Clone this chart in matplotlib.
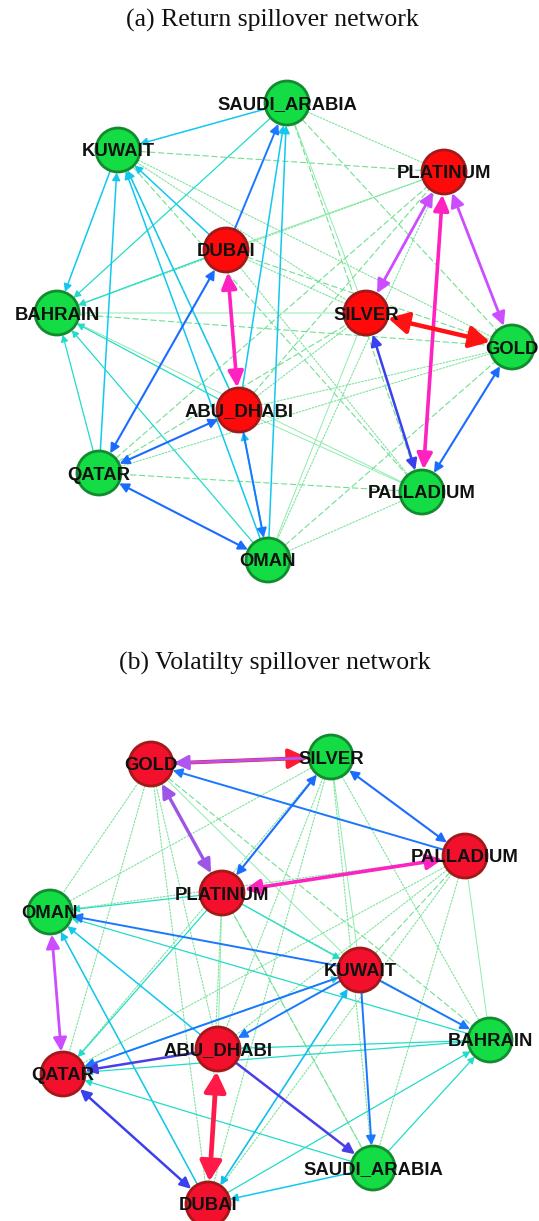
import matplotlib
matplotlib.use("Agg")
import matplotlib.pyplot as plt
from matplotlib.patches import FancyArrowPatch, Circle, ArrowStyle

# ---------------- data ----------------
titles = ["(a) Return spillover network", "(b) Volatilty spillover network"]

# panel (a) nodes
nodes_a = ["SAUDI_ARABIA", "KUWAIT", "PLATINUM", "DUBAI", "BAHRAIN", "SILVER",
           "GOLD", "ABU_DHABI", "QATAR", "PALLADIUM", "OMAN"]
nx_a = [287, 118, 444, 226, 57, 366, 512, 239, 99, 422, 268]
ny_a = [103, 150, 172, 250, 313, 313, 347, 410, 473, 492, 560]
role_a = ["g", "g", "r", "r", "g", "r", "g", "r", "g", "g", "g"]

# panel (b) nodes
nodes_b = ["GOLD", "SILVER", "PALLADIUM", "PLATINUM", "OMAN", "KUWAIT",
           "BAHRAIN", "ABU_DHABI", "QATAR", "SAUDI_ARABIA", "DUBAI"]
nx_b = [151, 331, 465, 222, 50, 360, 490, 218, 63, 373, 208]
ny_b = [764, 757, 856, 893, 912, 970, 1040, 1049, 1074, 1168, 1204]
role_b = ["r", "g", "r", "r", "g", "r", "g", "r", "r", "g", "r"]

edges_a = [
    # weak (green)
    ("KUWAIT", "PLATINUM", "grd"), ("KUWAIT", "SILVER", "grp"), ("KUWAIT", "GOLD", "grp"),
    ("KUWAIT", "PALLADIUM", "grd"), ("SAUDI_ARABIA", "PLATINUM", "grp"),
    ("SAUDI_ARABIA", "SILVER", "grs"), ("SAUDI_ARABIA", "GOLD", "grd"),
    ("SAUDI_ARABIA", "PALLADIUM", "grd"), ("DUBAI", "PLATINUM", "grs"),
    ("DUBAI", "SILVER", "grp"), ("DUBAI", "GOLD", "grd"), ("DUBAI", "PALLADIUM", "grp"),
    ("BAHRAIN", "SILVER", "grs"), ("BAHRAIN", "GOLD", "grd"), ("BAHRAIN", "PALLADIUM", "grs"),
    ("BAHRAIN", "PLATINUM", "grp"), ("ABU_DHABI", "PLATINUM", "grd"),
    ("ABU_DHABI", "SILVER", "grp"), ("ABU_DHABI", "GOLD", "grp"),
    ("ABU_DHABI", "PALLADIUM", "grs"), ("QATAR", "PLATINUM", "grd"), ("QATAR", "SILVER", "grd"),
    ("QATAR", "GOLD", "grp"), ("QATAR", "PALLADIUM", "grd"), ("OMAN", "PLATINUM", "grp"),
    ("OMAN", "SILVER", "grs"), ("OMAN", "GOLD", "grd"), ("OMAN", "PALLADIUM", "grp"),
    ("KUWAIT", "ABU_DHABI", "grd"),
    # medium (cyan / teal)
    ("SAUDI_ARABIA", "KUWAIT", "cya1"), ("KUWAIT", "BAHRAIN", "cya1"),
    ("DUBAI", "KUWAIT", "cya1"), ("DUBAI", "BAHRAIN", "tea1"),
    ("SAUDI_ARABIA", "BAHRAIN", "tea1"), ("QATAR", "KUWAIT", "cya1"),
    ("OMAN", "KUWAIT", "cya1"), ("ABU_DHABI", "KUWAIT", "cya1"),
    ("QATAR", "BAHRAIN", "tea1"), ("OMAN", "BAHRAIN", "tea1"),
    ("OMAN", "SAUDI_ARABIA", "cya1"), ("ABU_DHABI", "SAUDI_ARABIA", "cya1"),
    ("ABU_DHABI", "BAHRAIN", "tea1"), ("OMAN", "ABU_DHABI", "cya1"),
    # strong
    ("DUBAI", "SAUDI_ARABIA", "blu1"), ("ABU_DHABI", "OMAN", "blu1"),
    ("QATAR", "ABU_DHABI", "blu2"), ("QATAR", "OMAN", "blu2"), ("QATAR", "DUBAI", "blu2"),
    ("GOLD", "PALLADIUM", "blu2"), ("SILVER", "PALLADIUM", "ind2"),
    ("PLATINUM", "SILVER", "vio2"), ("PLATINUM", "GOLD", "vio2"),
    ("PLATINUM", "PALLADIUM", "mag2"), ("DUBAI", "ABU_DHABI", "mag2"),
    ("SILVER", "GOLD", "red2"),
]

edges_b = [
    # weak (green)
    ("GOLD", "OMAN", "grp"), ("GOLD", "QATAR", "grp"), ("GOLD", "ABU_DHABI", "grp"),
    ("GOLD", "KUWAIT", "grs"), ("GOLD", "DUBAI", "grp"), ("GOLD", "SAUDI_ARABIA", "grd"),
    ("GOLD", "BAHRAIN", "grd"), ("SILVER", "OMAN", "grp"), ("SILVER", "QATAR", "grp"),
    ("SILVER", "ABU_DHABI", "grp"), ("SILVER", "KUWAIT", "grs"), ("SILVER", "DUBAI", "grp"),
    ("SILVER", "SAUDI_ARABIA", "grp"), ("SILVER", "BAHRAIN", "grp"),
    ("PALLADIUM", "KUWAIT", "grd"), ("PALLADIUM", "ABU_DHABI", "grp"),
    ("PALLADIUM", "QATAR", "grp"), ("PALLADIUM", "DUBAI", "grp"),
    ("PALLADIUM", "SAUDI_ARABIA", "grp"), ("PALLADIUM", "BAHRAIN", "grs"),
    ("PALLADIUM", "OMAN", "grp"), ("PLATINUM", "ABU_DHABI", "grs"),
    ("PLATINUM", "DUBAI", "grp"), ("PLATINUM", "SAUDI_ARABIA", "grp"),
    ("PLATINUM", "BAHRAIN", "grp"), ("OMAN", "DUBAI", "grp"),
    # medium
    ("PLATINUM", "OMAN", "tea1"), ("PLATINUM", "KUWAIT", "tea1"), ("PLATINUM", "QATAR", "tea1"),
    ("ABU_DHABI", "OMAN", "cya1"), ("DUBAI", "OMAN", "cya1"), ("BAHRAIN", "QATAR", "tea1"),
    ("BAHRAIN", "ABU_DHABI", "tea1"), ("SAUDI_ARABIA", "QATAR", "tea1"),
    ("BAHRAIN", "OMAN", "tea1"), ("SAUDI_ARABIA", "BAHRAIN", "tea1"),
    ("DUBAI", "BAHRAIN", "tea1"), ("QATAR", "KUWAIT", "tea1"),
    ("KUWAIT", "DUBAI", "cya2"), ("SAUDI_ARABIA", "DUBAI", "cya1"),
    # strong
    ("KUWAIT", "OMAN", "blu1"), ("KUWAIT", "BAHRAIN", "blu1"),
    ("KUWAIT", "SAUDI_ARABIA", "blu1"), ("KUWAIT", "QATAR", "blu1"),
    ("KUWAIT", "ABU_DHABI", "blu1"), ("PALLADIUM", "GOLD", "blu1"),
    ("SILVER", "PLATINUM", "blu2"), ("SILVER", "PALLADIUM", "blu2"),
    ("ABU_DHABI", "QATAR", "ind1"), ("ABU_DHABI", "SAUDI_ARABIA", "ind1"),
    ("QATAR", "DUBAI", "ind2"), ("OMAN", "QATAR", "vio2"),
    ("GOLD", "PLATINUM", "pur2"), ("PLATINUM", "PALLADIUM", "mag2"),
    ("GOLD", "SILVER", "red1"), ("SILVER", "GOLD", "vio1"),
    ("ABU_DHABI", "DUBAI", "rdb2"),
]

# ---------------- styles ----------------
STY = {
    # color, lw, linestyle, arrow, head_len, head_wid (pt), z
    "grs": ("#8fecae", 0.7, "-", "-", 0, 0, 1),
    "grd": ("#6fe092", 0.8, (0, (5, 3)), "-", 0, 0, 1),
    "grp": ("#7ee39d", 0.8, (0, (1.5, 1.5)), "-", 0, 0, 1),
    "tea1": ("#22dcc8", 0.9, "-", "-|>", 4, 2.2, 2),
    "cya1": ("#12c8ee", 1.1, "-", "-|>", 4.5, 2.4, 2),
    "cya2": ("#12bdf0", 1.2, "-", "<|-|>", 4.5, 2.4, 2),
    "blu1": ("#1a78ff", 1.4, "-", "-|>", 5.5, 2.8, 3),
    "blu2": ("#1a6cff", 1.5, "-", "<|-|>", 5.5, 2.8, 3),
    "ind1": ("#4a3ee8", 1.8, "-", "-|>", 6.5, 3.2, 3),
    "ind2": ("#3b40ee", 1.8, "-", "<|-|>", 6.5, 3.2, 3),
    "vio1": ("#b055f0", 2.0, "-", "-|>", 9, 4.5, 4),
    "vio2": ("#cc4dff", 2.0, "-", "<|-|>", 8, 4, 4),
    "pur2": ("#9c55e6", 2.4, "-", "<|-|>", 8, 4, 4),
    "mag2": ("#ff22c0", 2.6, "-", "<|-|>", 9.5, 4.6, 4),
    "red1": ("#ff1a33", 2.8, "-", "-|>", 12, 6, 4),
    "red2": ("#ff1212", 3.2, "-", "<|-|>", 12, 6.5, 4),
    "rdb2": ("#ff1a4a", 3.4, "-", "<|-|>", 12, 6.5, 4),
}

W, H = 539, 1221
fig = plt.figure(figsize=(W / 100, H / 100), dpi=100)
ax = fig.add_axes([0, 0, 1, 1])
ax.set_xlim(0, W)
ax.set_ylim(H, 0)
ax.axis("off")

R = 22  # node radius (px)
shrink = R * 0.72 + 0.5


def draw_panel(nodes, xs, ys, roles, edges, red_col):
    pos = {n: (x, y) for n, x, y in zip(nodes, xs, ys)}
    for a, b, kind in edges:
        col, lw, ls, st, hl, hw, z = STY[kind]
        if st == "-":
            style = ArrowStyle("-")
        else:
            style = ArrowStyle(st, head_length=hl, head_width=hw)
        p = FancyArrowPatch(pos[a], pos[b], arrowstyle=style, mutation_scale=1,
                            color=col, lw=lw, linestyle=ls, shrinkA=shrink,
                            shrinkB=shrink, zorder=z)
        if ls != "-":
            p.set_linestyle(ls)
        ax.add_patch(p)
    for n, x, y, r in zip(nodes, xs, ys, roles):
        fc = red_col if r == "r" else "#13dc45"
        ec = "#a31818" if r == "r" else "#128a2e"
        ax.add_patch(Circle((x, y), R, facecolor=fc, edgecolor=ec, lw=2.0, zorder=10))
    for n, x, y in zip(nodes, xs, ys):
        ax.text(x, y + 2, n, ha="center", va="center", fontsize=13.3,
                fontweight="bold", family="Liberation Sans", color="#111111", zorder=12)


draw_panel(nodes_a, nx_a, ny_a, role_a, edges_a, "#ff0a0a")
draw_panel(nodes_b, nx_b, ny_b, role_b, edges_b, "#f2102c")

ax.text(272, 20, titles[0], ha="center", va="center", fontsize=18.5,
        family="Liberation Serif", color="#111111")
ax.text(275, 663, titles[1], ha="center", va="center", fontsize=18.5,
        family="Liberation Serif", color="#111111")

fig.savefig("out.png", dpi=100)
